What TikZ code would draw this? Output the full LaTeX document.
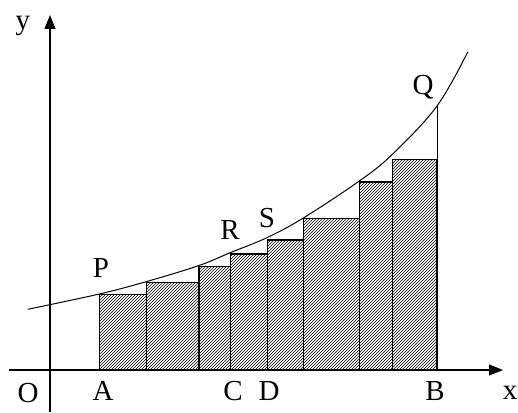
\documentclass[tikz,border=0pt]{standalone}
\usepackage{fontspec}
\setmainfont{Liberation Serif}
\usetikzlibrary{arrows.meta,patterns}
\tikzset{
  axis/.style={line width=1.2pt, -{Triangle[length=14pt, width=11pt]}},
  bar/.style={line width=1.1pt, pattern=north east lines, pattern color=black},
  curve/.style={line width=1pt},
  lbl/.style={anchor=base, inner sep=0pt, font=\fontsize{29}{32}\selectfont}
}
\newcommand{\hatchbar}[3]{%
  \draw[bar] (#1,0) rectangle (#2,#3);%
}

\begin{document}
\begin{tikzpicture}[x=1pt, y=1pt]
    \useasboundingbox (-50,-42) rectangle (468,370);
    % bars under the curve
    \hatchbar{49.3}{96.7}{75.7}
    \hatchbar{96.7}{149}{87.7}
    \hatchbar{149}{180.7}{103.3}
    \hatchbar{180.7}{217.3}{116}
    \hatchbar{217.3}{253.3}{130}
    \hatchbar{253.3}{309.3}{151.7}
    \hatchbar{309.3}{342.7}{188}
    \hatchbar{342.7}{387}{210.7}
    % axes
    \coordinate (xstart) at (-41,0);
    \coordinate (xend) at (453,0);
    \coordinate (ystart) at (0,-42);
    \coordinate (yend) at (0,355);
    \draw[axis] (xstart) -- (xend);
    \draw[axis] (ystart) -- (yend);
    % the curve
    \draw[curve] plot[smooth, tension=0.6] coordinates {
      (-22.3,60.7) (49.3,76) (96.7,88.5) (149,104.5) (180.7,117.5)
      (217.3,132.5) (253.3,152) (309.3,189) (342.7,216) (387,264) (417.7,318)};
    \coordinate (Btop) at (387,210.7);
    \coordinate (Qpt) at (387,264);
    \draw[line width=0.8pt] (Btop) -- (Qpt);
    % labels
    \node[lbl] (ylab) at (-27,340) {y};
    \node[lbl] (xlab) at (460,-29) {x};
    \node[lbl] (O) at (-22,-32) {O};
    \node[lbl] (A) at (53,-30) {A};
    \node[lbl] (C) at (183,-30) {C};
    \node[lbl] (D) at (219,-30) {D};
    \node[lbl] (B) at (385,-30) {B};
    \node[lbl] (P) at (51,93) {P};
    \node[lbl] (R) at (180,131) {R};
    \node[lbl] (S) at (217,142) {S};
    \node[lbl] (Q) at (373,275) {Q};
\end{tikzpicture}
\end{document}
